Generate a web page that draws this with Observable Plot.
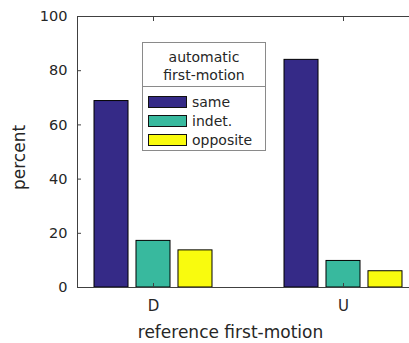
<!DOCTYPE html>
<html><head><meta charset="utf-8">
<script src="https://cdn.jsdelivr.net/npm/d3@7"></script>
<script src="https://cdn.jsdelivr.net/npm/@observablehq/plot@0.6"></script>
<style>
html,body{margin:0;padding:0;background:#fff;overflow:hidden}
#wrap{position:relative;width:409px;height:343px;overflow:hidden}
#wrap svg{max-width:none !important;position:absolute;left:0;top:0}
#legend{position:absolute;left:142px;top:42px;width:124px;height:109px;border:1px solid #8a8a8a;background:#fff;font:14px "DejaVu Sans";color:#262626;box-sizing:border-box}
#legend .title{height:44px;border-bottom:1px solid #8a8a8a;text-align:center;line-height:18px;padding-top:5px;box-sizing:border-box}
#legend .row{height:19px;display:flex;align-items:center}
#legend .sw{width:39px;height:12px;border:1px solid #111;margin-left:5px;margin-right:5px;box-sizing:border-box}
#legend .rows{padding-top:5px}
</style>
</head><body>
<div id="wrap"></div>
<script>
const groups = ["D", "U"];
const seriesNames = ["same", "indet.", "opposite"];
const same = [68.8, 84.0];
const indet = [17.2, 9.8];
const opposite = [13.7, 6.0];
const colors = ["#352a87", "#38b99e", "#f9fb0e"];
const yTicks = [0, 20, 40, 60, 80, 100];
const xTitle = "reference first-motion";
const yTitle = "percent";
const legendTitle = ["automatic", "first-motion"];

const seriesValues = [same, indet, opposite];
const barStep = 0.221, barWidth = 0.179;
const table = [];
groups.forEach((g, gi) => {
  seriesNames.forEach((s, si) => {
    const c = gi + 1 + (si - 1) * barStep;
    table.push({group: g, series: s, value: seriesValues[si][gi], x1: c - barWidth / 2, x2: c + barWidth / 2});
  });
});

const ink = "#262626";
const groupLabel = d => groups[Math.round(d) - 1];
const chart = Plot.plot({
  width: 420, height: 343,
  marginLeft: 77, marginRight: 1, marginTop: 16, marginBottom: 56,
  style: {fontFamily: "DejaVu Sans", fontSize: "14.5px", color: ink, background: "#fff", maxWidth: "none"},
  x: {domain: [0.6, 2.4], ticks: [1, 2], tickFormat: groupLabel},
  y: {domain: [0, 100], ticks: yTicks},
  color: {domain: seriesNames, range: colors},
  marks: [
    Plot.rectY(table, {x1: "x1", x2: "x2", y: "value", fill: "series", stroke: "#000", strokeWidth: 1}),
    Plot.frame({stroke: "#404040"}),
    Plot.axisY({ticks: yTicks, tickSize: -4, tickPadding: 14, label: null, stroke: "#404040", fontSize: 14.5, fill: ink}),
    Plot.axisX({ticks: [1, 2], anchor: "bottom", tickSize: -4, tickPadding: 17, tickFormat: groupLabel, label: null, stroke: "#404040", fontSize: 15, fill: ink}),
    Plot.axisX({ticks: [1, 2], anchor: "top", tickSize: -4, tickFormat: () => "", label: null, stroke: "#404040"}),
    Plot.text([xTitle], {frameAnchor: "bottom", lineAnchor: "top", dx: -18, dy: 38, fontSize: 17, fill: ink}),
    Plot.text([yTitle], {frameAnchor: "left", rotate: -90, dx: -58, dy: 38, fontSize: 17, fill: ink})
  ]
});
const wrap = document.getElementById("wrap");
wrap.appendChild(chart);

const lg = document.createElement("div");
lg.id = "legend";
const t = document.createElement("div");
t.className = "title";
t.innerHTML = legendTitle.join("<br>");
lg.appendChild(t);
const rows = document.createElement("div");
rows.className = "rows";
seriesNames.forEach((s, i) => {
  const r = document.createElement("div");
  r.className = "row";
  const sw = document.createElement("div");
  sw.className = "sw";
  sw.style.background = colors[i];
  const lab = document.createElement("span");
  lab.textContent = s;
  r.appendChild(sw); r.appendChild(lab);
  rows.appendChild(r);
});
lg.appendChild(rows);
wrap.appendChild(lg);
</script>
</body></html>
